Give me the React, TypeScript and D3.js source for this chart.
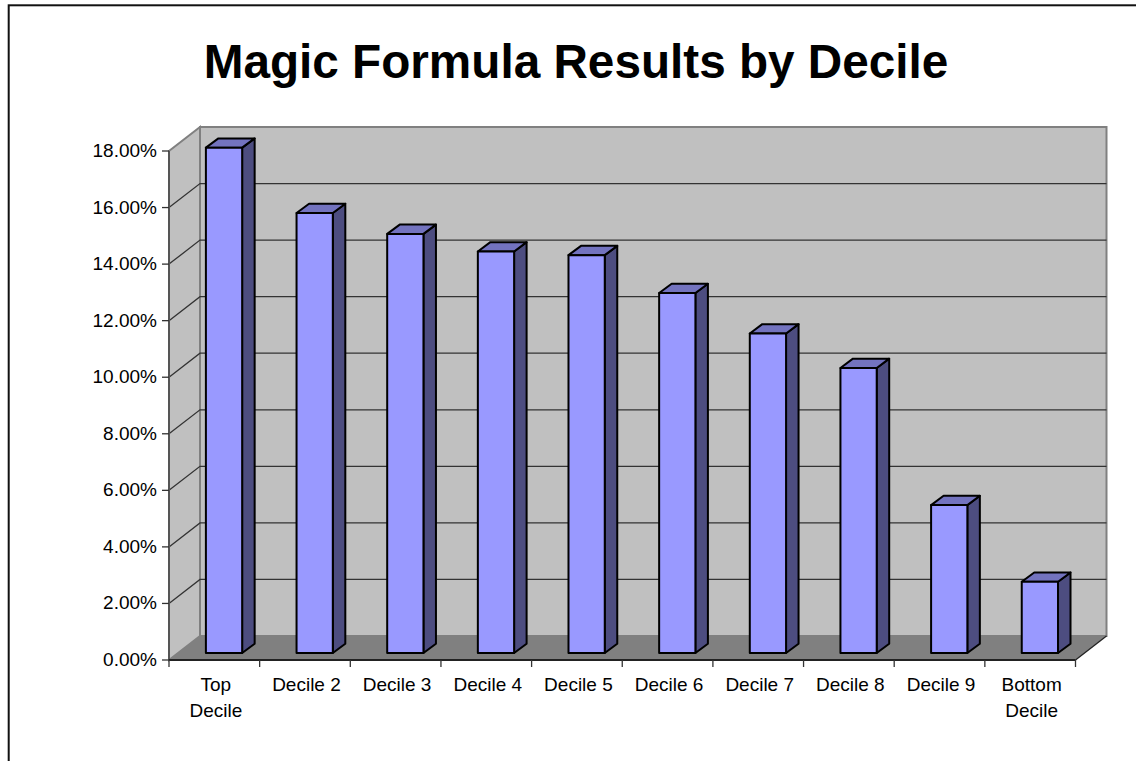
import * as d3 from 'd3';

const categories = [
  ['Top', 'Decile'],
  ['Decile 2'],
  ['Decile 3'],
  ['Decile 4'],
  ['Decile 5'],
  ['Decile 6'],
  ['Decile 7'],
  ['Decile 8'],
  ['Decile 9'],
  ['Bottom', 'Decile'],
];
const returns = [17.87, 15.56, 14.82, 14.2, 14.07, 12.73, 11.3, 10.08, 5.23, 2.52];
const yTicks = [0, 2, 4, 6, 8, 10, 12, 14, 16, 18];

const font = '"Liberation Sans", Arial, sans-serif';
const width = 1136;
const height = 761;

// front plane of the fake 3d box
const left = 169;
const right = 1075.5;
const bottom = 660;
const top = 151;
const depthX = 31;
const depthY = -24;

// bars sit part way into the box
const barOffsetX = 9.7;
const barOffsetY = -7;
const barDepthX = 12.5;
const barDepthY = -9.3;

const x = d3
  .scaleBand<number>()
  .domain(d3.range(categories.length))
  .range([left, right])
  .paddingInner(0.6)
  .paddingOuter(0.3);
const step = x.step();
const y = d3.scaleLinear().domain([0, 18]).range([bottom, top]);

const poly = (pts: [number, number][]) => `${d3.line()(pts)}Z`;

export default function App() {
  return (
    <svg
      width={width}
      height={height}
      viewBox={`0 0 ${width} ${height}`}
      style={{ position: 'absolute', left: 0, top: 0, background: '#fff' }}
    >
      {/* chart frame, runs off the page right and bottom */}
      <rect x={8.7} y={5.3} width={width} height={height} fill="#fff" stroke="#111" strokeWidth={2} />

      <text
        x={576}
        y={78}
        textAnchor="middle"
        fontFamily={font}
        fontWeight="bold"
        fontSize={47.7}
        fill="#000"
      >
        Magic Formula Results by Decile
      </text>

      {/* walls */}
      <path
        d={poly([
          [left + depthX, top + depthY],
          [right + depthX, top + depthY],
          [right + depthX, bottom + depthY],
          [left + depthX, bottom + depthY],
        ])}
        fill="#c0c0c0"
        stroke="#808080"
        strokeWidth={2}
      />
      <path
        d={poly([
          [left, top],
          [left + depthX, top + depthY],
          [left + depthX, bottom + depthY],
          [left, bottom],
        ])}
        fill="#c0c0c0"
        stroke="#808080"
        strokeWidth={2}
      />
      <path
        d={poly([
          [left, bottom],
          [left + depthX, bottom + depthY],
          [right + depthX, bottom + depthY],
          [right, bottom],
        ])}
        fill="#808080"
      />

      {/* gridlines */}
      {yTicks.slice(1, -1).map((t) => (
        <path
          key={t}
          d={d3.line()([
            [left, y(t)],
            [left + depthX, y(t) + depthY],
            [right + depthX, y(t) + depthY],
          ]) as string}
          fill="none"
          stroke="#333"
          strokeWidth={1.3}
        />
      ))}

      {/* bars */}
      {returns.map((v, i) => {
        const x0 = (x(i) as number) + barOffsetX;
        const x1 = x0 + x.bandwidth();
        const y0 = bottom + barOffsetY;
        const y1 = y(v) + barOffsetY;
        return (
          <g key={i} stroke="#000" strokeWidth={2} strokeLinejoin="round">
            <path
              d={poly([
                [x1, y0],
                [x1 + barDepthX, y0 + barDepthY],
                [x1 + barDepthX, y1 + barDepthY],
                [x1, y1],
              ])}
              fill="#4d4d80"
            />
            <path
              d={poly([
                [x0, y1],
                [x1, y1],
                [x1 + barDepthX, y1 + barDepthY],
                [x0 + barDepthX, y1 + barDepthY],
              ])}
              fill="#7373bf"
            />
            <rect x={x0} y={y1} width={x1 - x0} height={y0 - y1} fill="#9999ff" />
          </g>
        );
      })}

      {/* axes */}
      <path d={`M${left},${top}V${bottom}`} stroke="#555" strokeWidth={2} fill="none" />
      <path d={`M${left},${bottom}H${right}`} stroke="#222" strokeWidth={2} fill="none" />
      <path
        d={`M${right},${bottom}L${right + depthX},${bottom + depthY}`}
        stroke="#222"
        strokeWidth={1.3}
        fill="none"
      />
      {yTicks.map((t) => (
        <g key={t}>
          <path d={`M${left - 7},${y(t)}H${left}`} stroke="#333" strokeWidth={1.3} />
          <text
            x={left - 12}
            y={y(t) + 6}
            textAnchor="end"
            fontFamily={font}
            fontSize={19}
            fill="#000"
          >
            {t.toFixed(2)}%
          </text>
        </g>
      ))}
      {d3.range(categories.length + 1).map((i) => (
        <path
          key={i}
          d={`M${left + i * step},${bottom}v7`}
          stroke="#333"
          strokeWidth={1.3}
        />
      ))}
      {categories.map((lines, i) => (
        <text
          key={i}
          textAnchor="middle"
          fontFamily={font}
          fontSize={19}
          fill="#000"
        >
          {lines.map((s, j) => (
            <tspan key={j} x={left + (i + 0.5) * step + 1.5} y={691 + j * 26}>
              {s}
            </tspan>
          ))}
        </text>
      ))}
    </svg>
  );
}
